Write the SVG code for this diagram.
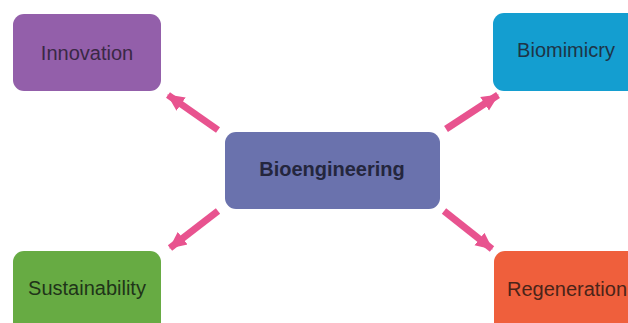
<svg xmlns="http://www.w3.org/2000/svg" width="628" height="323" viewBox="0 0 628 323">
  <style>
    .box { stroke: none; }
    .label { font-family: "Liberation Sans", Arial, sans-serif; font-size: 20px; text-anchor: middle; dominant-baseline: central; }
    .main { font-weight: bold; fill: #24263d; }
    .link { stroke: #e8538f; stroke-width: 7; fill: none; marker-end: url(#head); }
  </style>
  <defs>
    <marker id="head" markerUnits="userSpaceOnUse" markerWidth="18" markerHeight="18" viewBox="0 0 18 18" refX="16" refY="9" orient="auto">
      <path d="M0,1 L17,9 L0,17 z" fill="#e8538f"/>
    </marker>
  </defs>
  <rect width="628" height="323" fill="#ffffff"/>

  <g id="connectors">
    <line class="link" x1="218" y1="130" x2="168" y2="95"/>
    <line class="link" x1="446" y1="129" x2="498" y2="95"/>
    <line class="link" x1="218" y1="211" x2="170" y2="248"/>
    <line class="link" x1="444" y1="211" x2="492" y2="249"/>
  </g>

  <g id="bioengineering">
    <rect class="box" x="225" y="132" width="215" height="77" rx="11" fill="#6a72ad"/>
    <text class="label main" x="332" y="169">Bioengineering</text>
  </g>

  <g id="innovation">
    <rect class="box" x="13" y="14" width="148" height="77" rx="11" fill="#935faa"/>
    <text class="label" x="87" y="53" fill="#3a2845">Innovation</text>
  </g>

  <g id="biomimicry">
    <rect class="box" x="493" y="13" width="150" height="78" rx="11" fill="#149ed0"/>
    <text class="label" x="566" y="50" fill="#1e3447">Biomimicry</text>
  </g>

  <g id="sustainability">
    <rect class="box" x="13" y="251" width="148" height="85" rx="11" fill="#67ab43"/>
    <text class="label" x="87" y="288" fill="#203419">Sustainability</text>
  </g>

  <g id="regeneration">
    <rect class="box" x="494" y="251" width="150" height="85" rx="11" fill="#ef5f3c"/>
    <text class="label" x="567" y="289" fill="#4a2419">Regeneration</text>
  </g>
</svg>
